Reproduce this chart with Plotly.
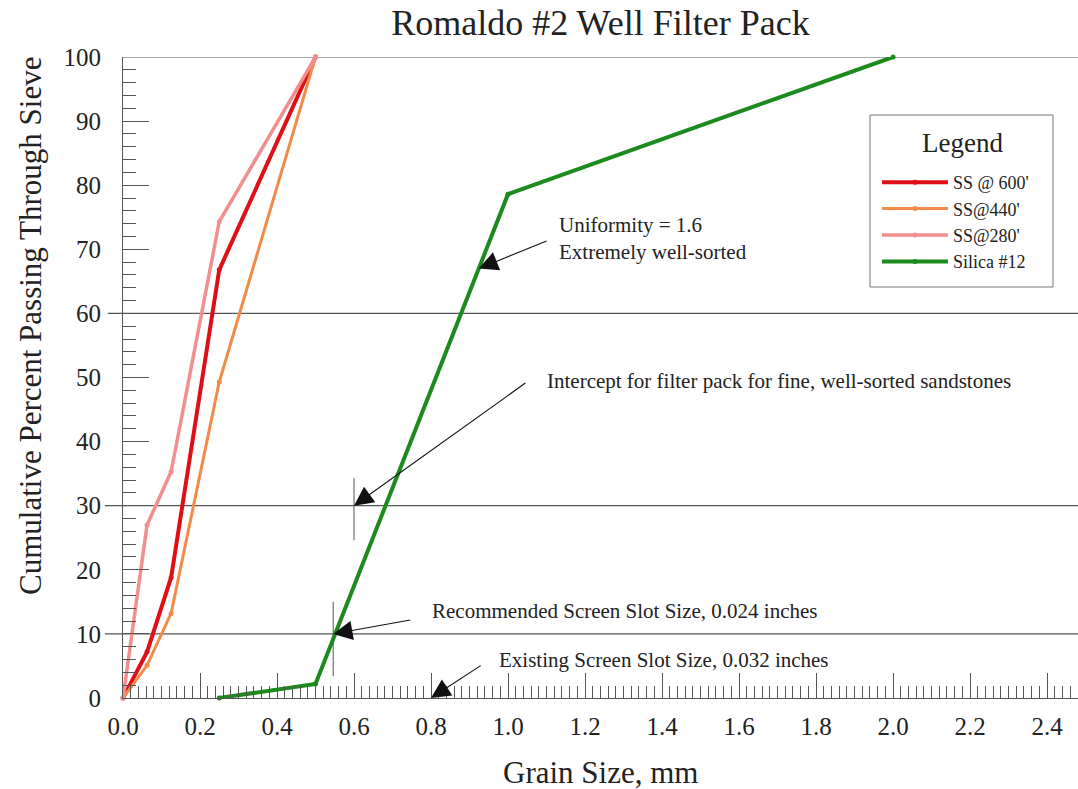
import plotly.graph_objects as go

# ---- data ----
sieve_mm = [0.0, 0.0625, 0.125, 0.25, 0.5]
ss_600 = [0, 7.2, 18.8, 66.8, 100]
ss_440 = [0, 5.1, 13.2, 49.3, 100]
ss_280 = [0, 27.0, 35.3, 74.3, 100]
silica_mm = [0.25, 0.5, 1.0, 2.0]
silica_12 = [0, 2.2, 78.6, 100]

series_names = ["SS @ 600'", "SS@440'", "SS@280'", "Silica #12"]
x_ticks = [0.0, 0.2, 0.4, 0.6, 0.8, 1.0, 1.2, 1.4, 1.6, 1.8, 2.0, 2.2, 2.4]
y_ticks = [0, 10, 20, 30, 40, 50, 60, 70, 80, 90, 100]
ref_lines_y = [10, 30, 60]

FONT = "Liberation Serif"
TXT = "#222222"

fig = go.Figure()
styles = [
    (sieve_mm, ss_600, series_names[0], "#DE0F17", 4),
    (sieve_mm, ss_440, series_names[1], "#F28B48", 3),
    (sieve_mm, ss_280, series_names[2], "#F28E8E", 3.5),
    (silica_mm, silica_12, series_names[3], "#1C8A1C", 4),
]
for xs, ys, name, col, w in styles:
    fig.add_trace(go.Scatter(
        x=xs, y=ys, name=name, mode="lines+markers",
        line=dict(color=col, width=w),
        marker=dict(color=col, size=5),
        cliponaxis=False,
    ))

# reference lines
for yv, x0 in zip(ref_lines_y, [-0.019, -0.019, -0.016]):
    fig.add_shape(type="line", xref="paper", yref="y", x0=x0, x1=1, y0=yv, y1=yv,
                  line=dict(color="#555555", width=1.2), layer="below")
fig.add_shape(type="line", xref="paper", yref="y", x0=0, x1=1, y0=100, y1=100,
              line=dict(color="#555555", width=1.2), layer="below")

# vertical markers
fig.add_shape(type="line", x0=0.6, x1=0.6, y0=24.6, y1=34.3,
              line=dict(color="#555555", width=1))
fig.add_shape(type="line", x0=0.546, x1=0.546, y0=3.4, y1=15.0,
              line=dict(color="#555555", width=1))

# legend frame + heading
fig.add_shape(type="rect", xref="paper", yref="paper",
              x0=(870 - 123) / 955, x1=(1053 - 123) / 955,
              y0=(698 - 287) / 641, y1=(698 - 115) / 641,
              line=dict(color="#777777", width=1), fillcolor="white", layer="above")
fig.add_annotation(x=(962 - 123) / 955, y=(698 - 143) / 641, xref="paper", yref="paper",
                   text="Legend", showarrow=False, xanchor="center", yanchor="middle",
                   font=dict(family=FONT, size=27, color=TXT))

# arrows (tip x,y ; tail ax,ay)
arrows = [
    (0.924, 67.0, 1.104, 71.4),
    (0.6, 30.0, 1.049, 49.3),
    (0.546, 10.0, 0.75, 12.2),
    (0.8, 0.0, 0.933, 5.2),
]
for x, y, ax, ay in arrows:
    fig.add_annotation(x=x, y=y, ax=ax, ay=ay, xref="x", yref="y", axref="x", ayref="y",
                       text="", showarrow=True, arrowhead=2, arrowsize=3.5, arrowwidth=1.1,
                       arrowcolor="#111111")

labels = [
    (1.127, 71.7, "Uniformity = 1.6<br>Extremely well-sorted"),
    (1.096, 49.45, "Intercept for filter pack for fine, well-sorted sandstones"),
    (0.797, 13.6, "Recommended Screen Slot Size, 0.024 inches"),
    (0.971, 5.9, "Existing Screen Slot Size, 0.032 inches"),
]
for x, y, t in labels:
    fig.add_annotation(x=x, y=y, xref="x", yref="y", text=t, showarrow=False,
                       xanchor="left", yanchor="middle", align="left",
                       font=dict(family=FONT, size=21, color=TXT))

# axis titles
fig.add_annotation(x=0.5, y=(698 - 772) / 641, xref="paper", yref="paper",
                   text="Grain Size, mm", showarrow=False, yanchor="middle",
                   font=dict(family=FONT, size=31, color=TXT))
fig.add_annotation(x=(30 - 123) / 955, y=(698 - 326) / 641, xref="paper", yref="paper",
                   text="Cumulative Percent Passing Through Sieve", showarrow=False,
                   textangle=-90, xanchor="center", yanchor="middle",
                   font=dict(family=FONT, size=31, color=TXT))

fig.update_layout(
    width=1078, height=789,
    margin=dict(l=123, r=0, t=57, b=91),
    paper_bgcolor="white", plot_bgcolor="white",
    title=dict(text="Romaldo #2 Well Filter Pack", x=0.557, xanchor="center",
               y=1 - 22 / 789, yanchor="middle",
               font=dict(family=FONT, size=36, color=TXT)),
    showlegend=True,
    legend=dict(
        x=(877 - 123) / 955, y=(698 - 164) / 641, xanchor="left", yanchor="top",
        borderwidth=0, bgcolor="rgba(0,0,0,0)",
        font=dict(family=FONT, size=18, color=TXT),
        itemwidth=66,
    ),
    xaxis=dict(
        range=[0, 955 / 385.0], tickvals=x_ticks, ticktext=[f"{v:.1f}" for v in x_ticks],
        ticks="inside", ticklen=25, tickcolor="#555555", tickwidth=1,
        minor=dict(ticks="inside", ticklen=12, dtick=0.02, tick0=0, tickcolor="#555555",
                   tickwidth=1, showgrid=False),
        showgrid=False, zeroline=False, showline=True, linecolor="#555555", linewidth=1.2,
        tickfont=dict(family=FONT, size=25, color=TXT), ticklabelstandoff=6,
    ),
    yaxis=dict(
        range=[0, 100], tickvals=y_ticks,
        ticks="inside", ticklen=26, tickcolor="#555555", tickwidth=1,
        minor=dict(ticks="inside", ticklen=13, dtick=2, tick0=0, tickcolor="#555555",
                   tickwidth=1, showgrid=False),
        showgrid=False, zeroline=False, showline=True, linecolor="#555555", linewidth=1.2,
        tickfont=dict(family=FONT, size=25, color=TXT), ticklabelstandoff=16,
    ),
)

fig.write_html("out.html", config={"displayModeBar": False},
               post_script="document.body.style.margin='0';")
